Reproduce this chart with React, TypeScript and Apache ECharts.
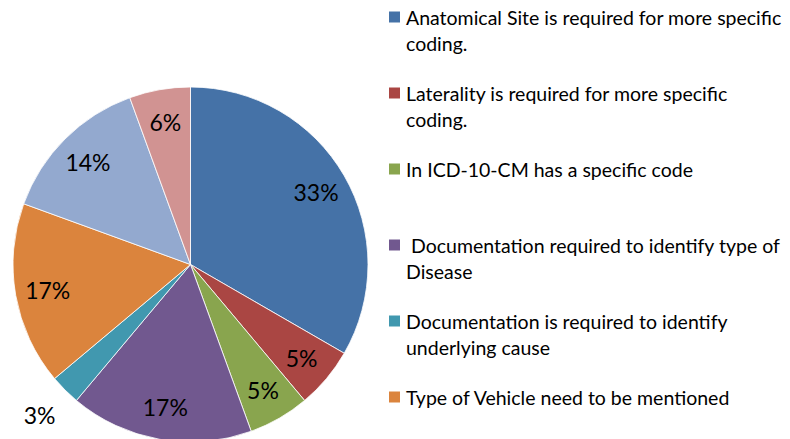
import React, { useEffect, useRef } from "react";
import * as echarts from "echarts";

const legendLines: string[][] = [
  ["Anatomical Site is required for more specific", "coding."],
  ["Laterality is required for more specific", "coding."],
  ["In ICD-10-CM has a specific code"],
  [" Documentation required to identify type of", "Disease"],
  ["Documentation is required to identify", "underlying cause"],
  ["Type of Vehicle need to be mentioned"],
];

const categories: string[] = [
  ...legendLines.map((l) => l.join(" ").trim()),
  "Category 7",
  "Category 8",
];

const values: number[] = [12, 2, 2, 6, 1, 6, 5, 2];
const pctLabels: string[] = ["33%", "5%", "5%", "17%", "3%", "17%", "14%", "6%"];
const colors: string[] = [
  "#4572A7",
  "#AA4643",
  "#89A54E",
  "#71588F",
  "#4198AF",
  "#DB843D",
  "#93A9CF",
  "#D19392",
];
const outsideLabelIndex = 4;

const FONT = "Lato, 'Open Sans', sans-serif";

export default function App() {
  const ref = useRef<HTMLDivElement>(null);
  useEffect(() => {
    if (!ref.current) return;
    const chart = echarts.init(ref.current, undefined, { renderer: "svg" });
    const R = 177.5;
    const center = [190.5, 264.5];
    const rich: Record<string, any> = {
      t: { fontSize: 19.5, fontFamily: FONT, color: "#000", lineHeight: 26 },
      g: { width: 6 },
      p: { width: 17, lineHeight: 26 },
    };
    colors.forEach((c, i) => {
      rich["s" + i] = { width: 11, height: 11, backgroundColor: c };
    });
    const data = values.map((v, i) => ({
      name: categories[i],
      value: v,
      itemStyle: { color: colors[i] },
    }));
    chart.setOption({
      animation: false,
      legend: {
        orient: "vertical",
        left: 383,
        top: 7,
        padding: 0,
        itemGap: 30,
        itemWidth: 0,
        itemHeight: 0,
        icon: "rect",
        selectedMode: false,
        data: categories.slice(0, legendLines.length),
        formatter: (name: string) => {
          const i = categories.indexOf(name);
          const lines = legendLines[i];
          return `{s${i}|}{g|}{t|${lines[0]}}\n{p|}{t|${lines[1] || " "}}`;
        },
        textStyle: { rich },
      },
      series: [
        {
          type: "pie",
          radius: R,
          center,
          startAngle: 90,
          clockwise: true,
          silent: true,
          label: { show: false },
          labelLine: { show: false },
          itemStyle: { borderColor: "#ffffff", borderWidth: 0.8 },
          data,
        },
        {
          type: "pie",
          radius: [R * 0.6, R],
          center,
          startAngle: 90,
          clockwise: true,
          silent: true,
          itemStyle: { color: "transparent" },
          labelLine: { show: false },
          label: {
            show: true,
            position: "inside",
            fontSize: 23,
            fontFamily: FONT,
            color: "#000",
            formatter: (p: any) =>
              p.dataIndex === outsideLabelIndex ? "" : pctLabels[p.dataIndex],
          },
          data: values.map((v, i) => ({ name: categories[i], value: v })),
        },
        {
          type: "pie",
          radius: [R * 1.07, R * 1.3],
          center,
          startAngle: 90,
          clockwise: true,
          silent: true,
          itemStyle: { color: "transparent" },
          labelLine: { show: false },
          label: {
            show: true,
            position: "inside",
            fontSize: 23,
            fontFamily: FONT,
            color: "#000",
            formatter: (p: any) =>
              p.dataIndex === outsideLabelIndex ? pctLabels[p.dataIndex] : "",
          },
          data: values.map((v, i) => ({ name: categories[i], value: v })),
        },
      ],
    });
    return () => chart.dispose();
  }, []);
  return (
    <div
      ref={ref}
      style={{ position: "fixed", left: 0, top: 0, width: 790, height: 439, background: "#fff" }}
    />
  );
}
